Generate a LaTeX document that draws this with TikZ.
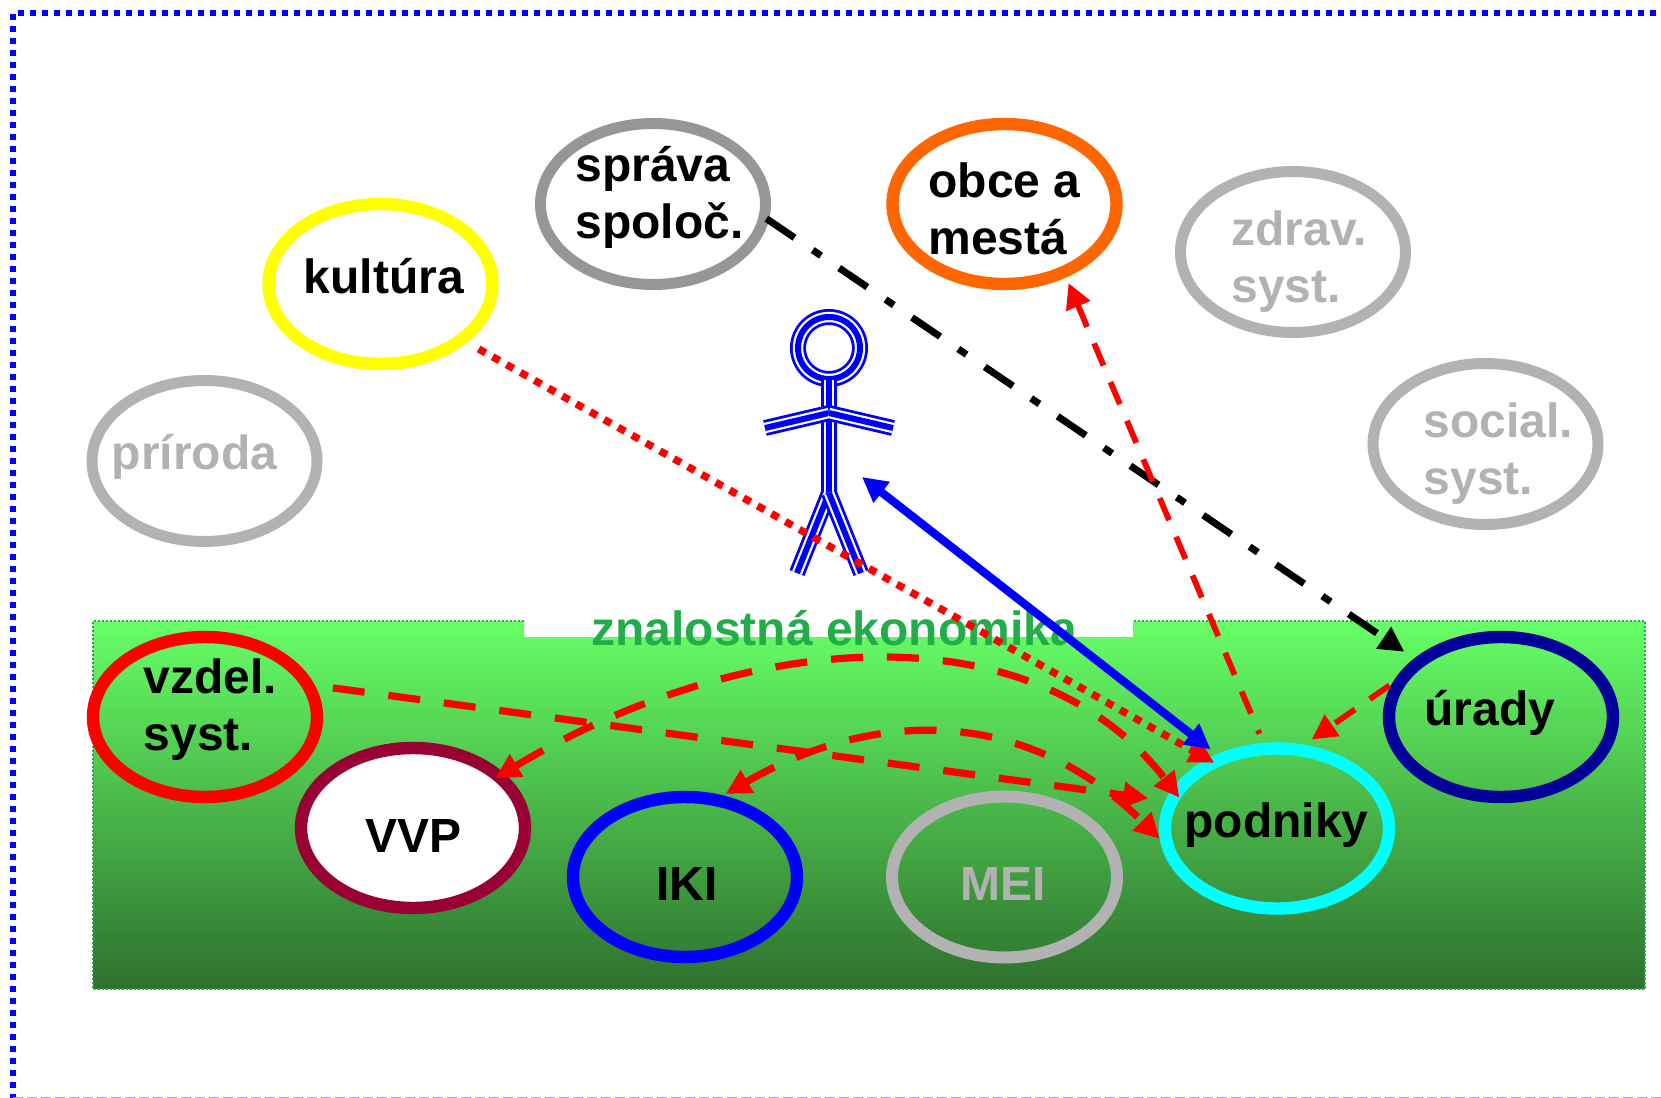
\documentclass[tikz,border=0pt]{standalone}
\usepackage{fontspec}
\setmainfont{Liberation Sans}
\usepackage{xcolor}
\usetikzlibrary{arrows.meta, shapes.geometric}

\definecolor{cGray}{HTML}{B2B2B2}
\definecolor{cDark}{HTML}{969696}
\definecolor{cYellow}{HTML}{FFFF00}
\definecolor{cOrange}{HTML}{FF6600}
\definecolor{cRed}{HTML}{FF0000}
\definecolor{cWine}{HTML}{990033}
\definecolor{cBlue}{HTML}{0000FF}
\definecolor{cCyan}{HTML}{00FFFF}
\definecolor{cNavy}{HTML}{000099}
\definecolor{cTop}{HTML}{66FF66}
\definecolor{cBottom}{HTML}{2E702E}
\definecolor{cTitle}{HTML}{22AD4A}

\tikzset{
    sphere/.style={draw=#1, ellipse, line width=6.2pt, minimum width=112pt, minimum height=80pt, inner sep=0pt},
    greysphere/.style={draw=#1, ellipse, line width=5.5pt, minimum width=112.5pt, minimum height=80.5pt, inner sep=0pt},
    lbl/.style={anchor=base west, align=left, inner sep=0pt, font=\fontsize{24}{28.5}\selectfont\bfseries},
    figline/.style={draw=cBlue, line width=8pt, postaction={draw=white, line width=5.2pt}, postaction={draw=cBlue, line width=3pt}},
    reddash/.style={draw=cRed, line width=2.9pt, dash pattern=on 12pt off 9pt},
    redthick/.style={draw=cRed, line width=3.6pt, dash pattern=on 16pt off 12pt},
    tip/.style={-{Triangle[length=12.5pt, width=12.5pt]}},
    bothtips/.style={{Triangle[length=12.5pt, width=12.5pt]}-{Triangle[length=12.5pt, width=12.5pt]}},
}

\begin{document}
\begin{tikzpicture}[x=0.5pt, y=-0.5pt]
        \useasboundingbox (0,0) rectangle (1661,1098);
        \draw[cBlue, line width=3pt, dash pattern=on 3pt off 3pt] (13,1100) -- (13,13) -- (1680,13);
        \draw[cBlue!35, line width=1pt, dash pattern=on 5pt off 2pt] (13,1097.5) -- (1661,1097.5);

        % green area
        \shade[top color=cTop, bottom color=cBottom]
            (93,621) -- (524,621) -- (524,637) -- (1133,637) -- (1133,621) -- (1645,621)
            -- (1645,989) -- (93,989) -- cycle;
        \draw[cTitle, line width=1pt, dash pattern=on 1pt off 1pt]
            (524,621) -- (93,621) -- (93,989) -- (1645,989) -- (1645,621) -- (1133,621);
        \node[lbl, text=cTitle] (title) at (591,645) {znalostná ekonomika};

        % spheres
        \node[greysphere=cGray] (priroda) at (204.5,461) {};
        \node[sphere=cYellow] (kultura) at (380.5,284) {};
        \node[greysphere=cDark] (sprava) at (653,204) {};
        \node[sphere=cOrange] (obce) at (1004.5,204) {};
        \node[greysphere=cGray] (zdrav) at (1293,252) {};
        \node[greysphere=cGray] (social) at (1485.5,444) {};
        \node[sphere=cRed] (vzdel) at (205,717) {};
        \node[sphere=cWine, fill=white] (vvp) at (413,828) {};
        \node[sphere=cBlue] (iki) at (685,877) {};
        \node[greysphere=cGray, line width=6pt] (mei) at (1004.5,877) {};
        \node[sphere=cCyan] (podniky) at (1277,828.5) {};
        \node[sphere=cNavy] (urady) at (1501,717) {};

        % texts
        \node[lbl, text=cGray] (prirodaT) at (111.5,469) {príroda};
        \node[lbl] (kulturaT) at (303.5,293.5) {kultúra};
        \node[lbl] (spravaT) at (575,238) {správa\\spoloč.};
        \node[lbl] (obceT) at (928,254) {obce a\\mestá};
        \node[lbl, text=cGray] (zdravT) at (1231,302) {zdrav.\\syst.};
        \node[lbl, text=cGray] (socialT) at (1423.5,494) {social.\\syst.};
        \node[lbl] (vzdelT) at (143.5,750) {vzdel.\\syst.};
        \node[lbl] (vvpT) at (365.5,852) {VVP};
        \node[lbl] (ikiT) at (656,900.5) {IKI};
        \node[lbl, text=cGray] (meiT) at (960,900.5) {MEI};
        \node[lbl] (podnikyT) at (1184,837) {podniky};
        \node[lbl] (uradyT) at (1424,725.6) {úrady};

        % person
        \coordinate (head) at (829,348);
        \coordinate (neck) at (829,380);
        \coordinate (hip) at (829,493);
        \coordinate (shoulder) at (829,413);
        \coordinate (handL) at (765,428);
        \coordinate (handR) at (893,428);
        \coordinate (footL) at (797,573);
        \coordinate (footR) at (861,573);
        \coordinate (person) at (862,477);
        \path[figline] (head) circle (15.5pt);
        \path[figline] (neck) -- (hip);
        \path[figline] (shoulder) -- (handL);
        \path[figline] (shoulder) -- (handR);
        \path[figline] (hip) -- (footL);
        \path[figline] (hip) -- (footR);

        % links
        \draw[black, line width=3.5pt, dash pattern=on 17pt off 11pt on 5pt off 11pt, tip, shorten <=-1.5pt, shorten >=6pt]
            (sprava.-8) -- (urady.146);
        \draw[cRed, line width=3.7pt, dash pattern=on 4pt off 4pt, tip, shorten <=6.5pt, shorten >=-4pt]
            (kultura.-34) -- (podniky.135);
        \draw[reddash, {Triangle[length=12.5pt, width=12.5pt]}-, shorten >=5pt, shorten <=3pt]
            (obce.-50) -- (podniky.99);
        \draw[reddash, tip, shorten <=1.5pt, shorten >=4.5pt]
            (urady.163) -- (podniky.72);
        \draw[redthick, tip, shorten <=9pt, shorten >=8.5pt]
            (vzdel.16) -- (podniky.166);
        \draw[redthick, bothtips]
            ([xshift=-4.5pt, yshift=-2.5pt]vvp.31) .. controls (740,632) and (1030,605) .. ([xshift=5.7pt, yshift=-1.2pt]podniky.163);
        \draw[redthick, bothtips, shorten <=1.5pt]
            (iki.65) .. controls (880,705) and (1030,710) .. (podniky.185);
        \draw[cBlue, line width=4.1pt, bothtips, shorten >=4pt]
            (person) -- (podniky.129);
\end{tikzpicture}
\end{document}
